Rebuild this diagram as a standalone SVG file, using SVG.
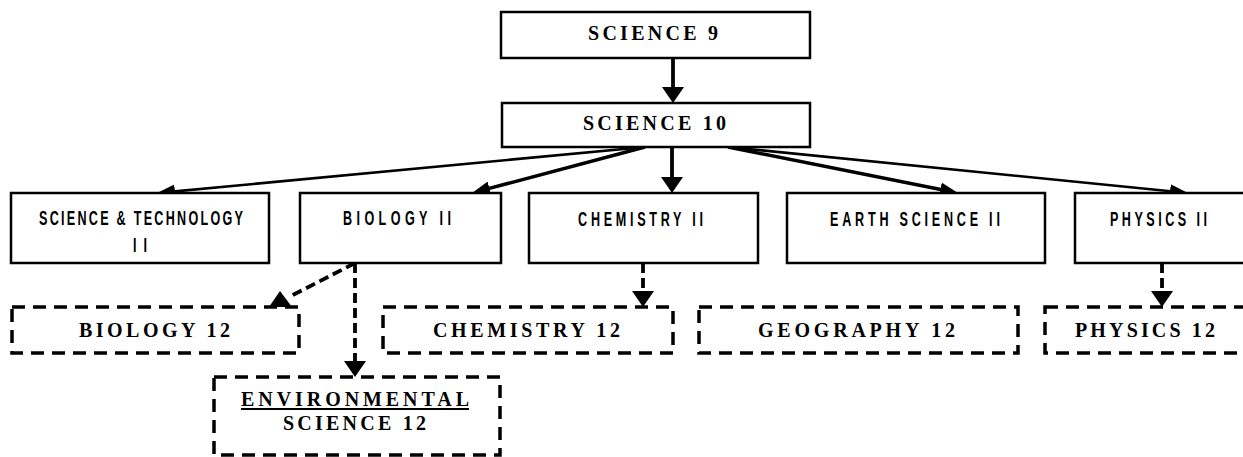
<svg xmlns="http://www.w3.org/2000/svg" width="1243" height="457" viewBox="0 0 1243 457">
<style>
.box{fill:#fff;stroke:#000;stroke-width:2.5}
.dbox{fill:#fff;stroke:#000;stroke-width:3.5;stroke-dasharray:13 8}
.serif{font-family:"Liberation Serif","Times New Roman",serif;font-weight:bold;font-size:20px;fill:#000}
.cond{font-family:"Liberation Sans",Arial,sans-serif;font-weight:bold;font-size:21px;fill:#000}
.ln{stroke:#000;fill:none}
.dl{stroke:#000;fill:none;stroke-width:3.8;stroke-dasharray:10 5}
</style>
<defs>
<marker id="head" viewBox="0 0 18 14" markerWidth="18" markerHeight="14" refX="8" refY="7" orient="auto" markerUnits="userSpaceOnUse"><path d="M0,0 L18,7 L0,14 z" fill="#000"/></marker>
<marker id="vhead" viewBox="0 0 16 22" markerWidth="16" markerHeight="22" refX="6" refY="11" orient="auto" markerUnits="userSpaceOnUse"><path d="M0,0 L16,11 L0,22 z" fill="#000"/></marker>
</defs>
<rect width="1243" height="457" fill="#fff"/>
<g id="connectors">
<line class="ln" x1="673" y1="58" x2="673" y2="93" stroke-width="3.8" marker-end="url(#vhead)"/>
<line class="ln" x1="672" y1="147" x2="672" y2="183" stroke-width="3.8" marker-end="url(#vhead)"/>
<line class="ln" x1="645" y1="147" x2="167" y2="192.1" stroke-width="2.6" marker-end="url(#head)"/>
<line class="ln" x1="645" y1="147" x2="481.7" y2="190.4" stroke-width="3.4" marker-end="url(#head)"/>
<line class="ln" x1="728" y1="147" x2="948.2" y2="191" stroke-width="3.4" marker-end="url(#head)"/>
<line class="ln" x1="728" y1="147" x2="1178" y2="192" stroke-width="2.6" marker-end="url(#head)"/>
<line class="dl" x1="643" y1="263" x2="643" y2="297" marker-end="url(#vhead)"/>
<line class="dl" x1="1162" y1="263" x2="1162" y2="297" marker-end="url(#vhead)"/>
<line class="dl" x1="355" y1="263" x2="355" y2="367" marker-end="url(#vhead)"/>
<line class="dl" x1="355" y1="263" x2="289" y2="297"/>
<polygon points="280,291 269,307 292,307" fill="#000"/>
</g>
<g id="science9">
<rect class="box" x="501" y="12" width="309" height="46"/>
<text class="serif" x="653" y="40" text-anchor="middle" textLength="130" lengthAdjust="spacing">SCIENCE 9</text>
</g>
<g id="science10">
<rect class="box" x="502" y="103" width="308" height="44"/>
<text class="serif" x="654.5" y="130" text-anchor="middle" textLength="143" lengthAdjust="spacing">SCIENCE 10</text>
</g>
<g id="scitech11">
<rect class="box" x="11" y="193" width="258" height="70"/>
<text class="cond" transform="translate(141,225) scale(0.6,1)" text-anchor="middle" textLength="340" lengthAdjust="spacing">SCIENCE &amp; TECHNOLOGY</text>
<text class="cond" transform="translate(140,252) scale(0.6,1)" text-anchor="middle" textLength="23" lengthAdjust="spacing">II</text>
</g>
<g id="biology11">
<rect class="box" x="300" y="193" width="201" height="70"/>
<text class="cond" transform="translate(397,225) scale(0.6,1)" text-anchor="middle" textLength="180" lengthAdjust="spacing">BIOLOGY II</text>
</g>
<g id="chemistry11">
<rect class="box" x="529" y="193" width="229" height="70"/>
<text class="cond" transform="translate(640.5,226) scale(0.6,1)" text-anchor="middle" textLength="208" lengthAdjust="spacing">CHEMISTRY II</text>
</g>
<g id="earthscience11">
<rect class="box" x="787" y="193" width="258" height="70"/>
<text class="cond" transform="translate(915,226) scale(0.6,1)" text-anchor="middle" textLength="283" lengthAdjust="spacing">EARTH SCIENCE II</text>
</g>
<g id="physics11">
<rect class="box" x="1075" y="193" width="190" height="70"/>
<text class="cond" transform="translate(1158.5,226) scale(0.6,1)" text-anchor="middle" textLength="162" lengthAdjust="spacing">PHYSICS II</text>
</g>
<g id="biology12">
<rect class="dbox" x="12" y="307" width="287" height="46"/>
<text class="serif" x="154.5" y="337" text-anchor="middle" textLength="151" lengthAdjust="spacing">BIOLOGY 12</text>
</g>
<g id="chemistry12">
<rect class="dbox" x="383" y="307" width="290" height="46"/>
<text class="serif" x="526.5" y="337" text-anchor="middle" textLength="187" lengthAdjust="spacing">CHEMISTRY 12</text>
</g>
<g id="geography12">
<rect class="dbox" x="699" y="307" width="319" height="46"/>
<text class="serif" x="856.5" y="337" text-anchor="middle" textLength="197" lengthAdjust="spacing">GEOGRAPHY 12</text>
</g>
<g id="physics12">
<rect class="dbox" x="1045" y="307" width="220" height="46"/>
<text class="serif" x="1145" y="337" text-anchor="middle" textLength="140" lengthAdjust="spacing">PHYSICS 12</text>
</g>
<g id="envscience12">
<rect class="dbox" x="214" y="377" width="286" height="78"/>
<text class="serif" x="355" y="406" text-anchor="middle" textLength="228" lengthAdjust="spacing">ENVIRONMENTAL</text>
<line x1="241" y1="409" x2="469" y2="409" stroke="#000" stroke-width="2"/>
<text class="serif" x="354.5" y="430" text-anchor="middle" textLength="143" lengthAdjust="spacing">SCIENCE 12</text>
</g>
</svg>
